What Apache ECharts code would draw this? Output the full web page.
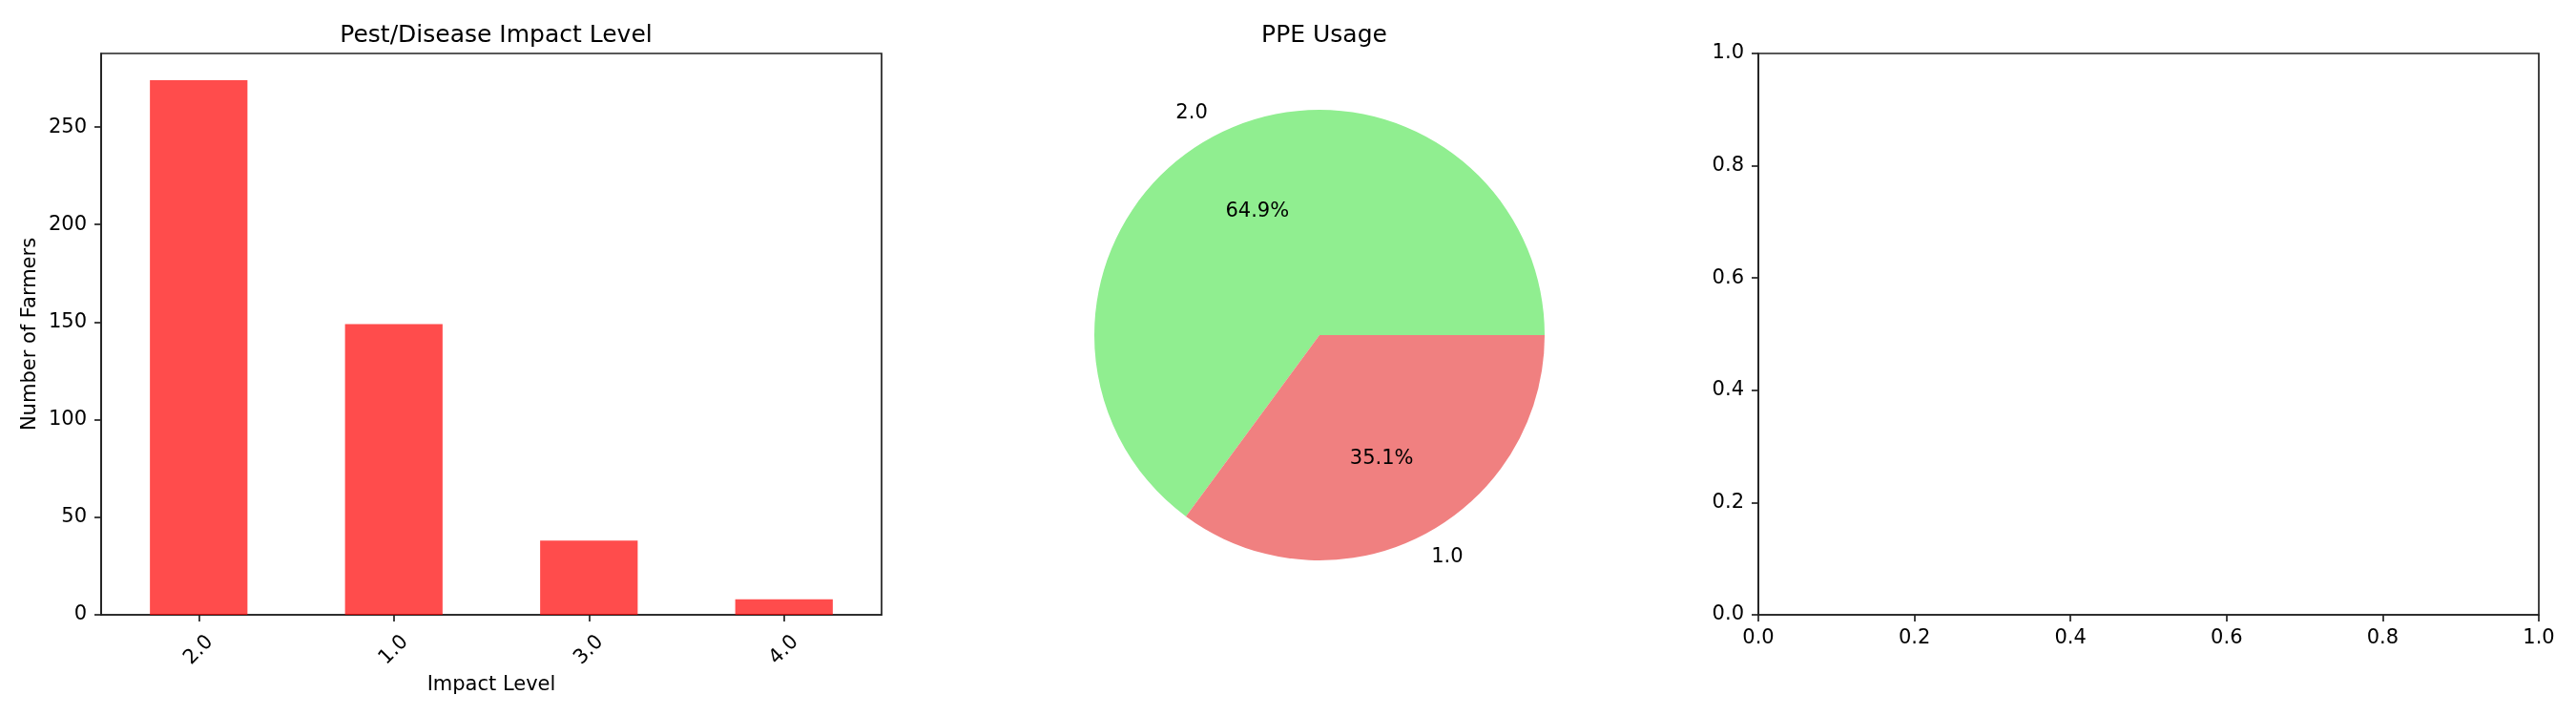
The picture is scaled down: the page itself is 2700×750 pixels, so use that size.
<!DOCTYPE html>
<html>
<head>
<meta charset="utf-8">
<script src="https://cdn.jsdelivr.net/npm/echarts@6/dist/echarts.min.js"></script>
<style>html,body{margin:0;padding:0;background:#fff;}#c{width:2700px;height:750px;}</style>
</head>
<body>
<div id="c"></div>
<script>
// ---- data ----
const impactCategories = ['2.0', '1.0', '3.0', '4.0'];
const impactCounts = [274, 149, 38, 8];
const impactYTicks = [0, 50, 100, 150, 200, 250];
const ppeLabels = ['2.0', '1.0'];
const ppeCounts = [305, 165];
const emptyTicks = [0, 0.2, 0.4, 0.6, 0.8, 1.0];

const FONT = 'DejaVu Sans';
const AX = '#222';
const LW = 1.7;
const R = 236;
const fs = 21;

const axisCommon = {
  axisLine: { show: true, lineStyle: { color: AX, width: LW } },
  axisTick: { show: true, length: 7, lineStyle: { color: AX, width: LW } },
  splitLine: { show: false },
  axisLabel: { color: '#000', fontFamily: FONT, fontSize: fs, margin: 14 }
};

const chart = echarts.init(document.getElementById('c'), null, { renderer: 'canvas' });

const pieData = ppeLabels.map((n, i) => ({ name: n, value: ppeCounts[i] }));

chart.setOption({
  animation: false,
  backgroundColor: '#fff',
  textStyle: { fontFamily: FONT },
  title: [
    { text: 'Pest/Disease Impact Level', left: 515, top: 20, textAlign: 'center',
      textStyle: { fontFamily: FONT, fontSize: 25, fontWeight: 'normal', color: '#000' } },
    { text: 'PPE Usage', left: 1383, top: 20, textAlign: 'center',
      textStyle: { fontFamily: FONT, fontSize: 25, fontWeight: 'normal', color: '#000' } }
  ],
  grid: [
    { left: 106, top: 56, width: 818, height: 588, show: true, borderColor: AX, borderWidth: LW, containLabel: false },
    { left: 1843, top: 56, width: 818, height: 588, show: true, borderColor: AX, borderWidth: LW, containLabel: false }
  ],
  xAxis: [
    Object.assign({}, axisCommon, {
      gridIndex: 0, type: 'category', data: impactCategories,
      axisTick: { show: true, alignWithLabel: true, length: 7, lineStyle: { color: AX, width: LW } },
      axisLabel: { color: '#000', fontFamily: FONT, fontSize: fs, rotate: 45, align: 'center', verticalAlign: 'middle', margin: 37, interval: 0 },
      name: 'Impact Level', nameLocation: 'middle', nameGap: 60,
      nameTextStyle: { color: '#000', fontFamily: FONT, fontSize: fs }
    }),
    Object.assign({}, axisCommon, {
      gridIndex: 1, type: 'value', min: 0, max: 1, interval: 0.2,
      axisLabel: { color: '#000', fontFamily: FONT, fontSize: fs, margin: 14, formatter: v => v.toFixed(1) }
    })
  ],
  yAxis: [
    Object.assign({}, axisCommon, {
      gridIndex: 0, type: 'value', min: 0, max: 287.7,
      axisTick: { show: true, length: 7, lineStyle: { color: AX, width: LW }, customValues: impactYTicks },
      axisLabel: { color: '#000', fontFamily: FONT, fontSize: fs, margin: 15, customValues: impactYTicks },
      name: 'Number of Farmers', nameLocation: 'middle', nameGap: 64,
      nameTextStyle: { color: '#000', fontFamily: FONT, fontSize: fs }
    }),
    Object.assign({}, axisCommon, {
      gridIndex: 1, type: 'value', min: 0, max: 1, interval: 0.2,
      axisLabel: { color: '#000', fontFamily: FONT, fontSize: fs, margin: 15, formatter: v => v.toFixed(1) }
    })
  ],
  series: [
    {
      type: 'bar', xAxisIndex: 0, yAxisIndex: 0, data: impactCounts, barWidth: '50%',
      itemStyle: { color: 'rgba(255,0,0,0.7)' }, silent: true
    },
    {
      type: 'line', xAxisIndex: 1, yAxisIndex: 1, data: [], silent: true
    },
    {
      type: 'pie', center: [1383, 351], radius: [0, R], startAngle: 0, clockwise: false,
      data: pieData, silent: true, avoidLabelOverlap: false,
      color: ['#90EE90', '#F08080'],
      itemStyle: { borderWidth: 0 },
      label: { show: true, position: 'outside', formatter: '{b}', color: '#000', fontFamily: FONT, fontSize: fs, distanceToLabelLine: 0 },
      labelLine: { show: false, length: 24, length2: 0 }
    },
    {
      type: 'pie', center: [1383, 351], radius: [0.2 * R, R], startAngle: 0, clockwise: false,
      data: pieData, silent: true, percentPrecision: 1, avoidLabelOverlap: false,
      itemStyle: { color: 'rgba(0,0,0,0)', borderWidth: 0 },
      label: { show: true, position: 'inside', formatter: '{d}%', color: '#000', fontFamily: FONT, fontSize: fs },
      labelLine: { show: false }
    }
  ]
});
</script>
</body>
</html>
